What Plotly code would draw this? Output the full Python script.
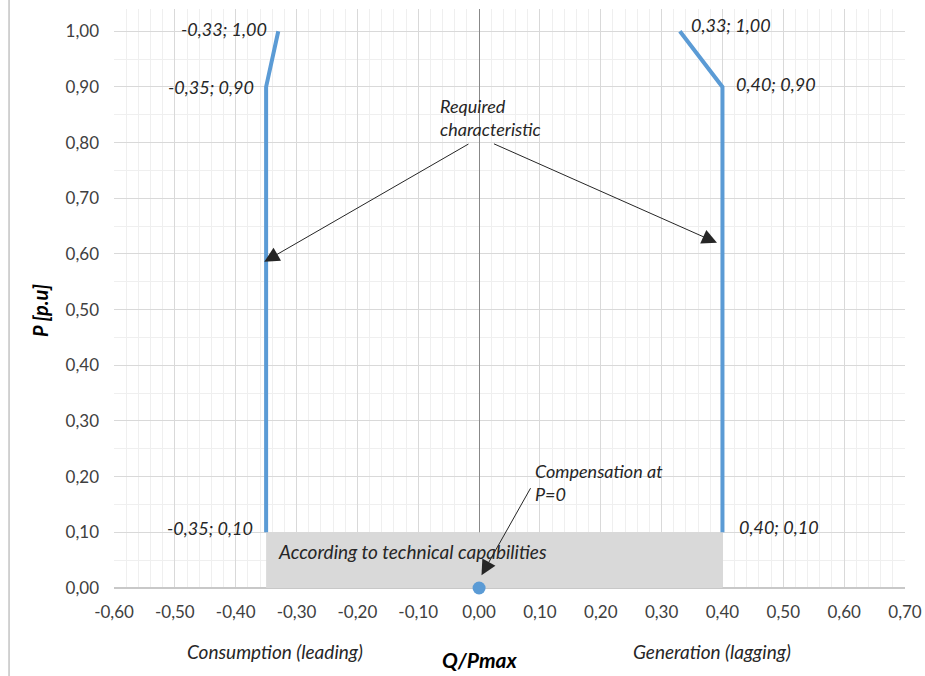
import plotly.graph_objects as go

# ---- data ----
q_consumption = [-0.35, -0.35, -0.33]
p_consumption = [0.10, 0.90, 1.00]
q_generation = [0.40, 0.40, 0.33]
p_generation = [0.10, 0.90, 1.00]
q_comp = [0.00]
p_comp = [0.00]
x_ticks = [-0.6, -0.5, -0.4, -0.3, -0.2, -0.1, 0.0, 0.1, 0.2, 0.3, 0.4, 0.5, 0.6, 0.7]
y_ticks = [0.0, 0.1, 0.2, 0.3, 0.4, 0.5, 0.6, 0.7, 0.8, 0.9, 1.0]

FONT = "Lato"
BLUE = "#5b9bd5"
TXT = "#262626"

def num(v):
    return f"{v:.2f}".replace(".", ",")

def lbl(q, p):
    return f"{num(q)}; {num(p)}"

fig = go.Figure()

# gray area (according to technical capabilities)
rx0, rx1 = q_consumption[0], q_generation[0]
ry1 = p_consumption[0]
fig.add_trace(go.Scatter(
    x=[rx0, rx1, rx1, rx0, rx0], y=[0, 0, ry1, ry1, 0],
    fill="toself", fillcolor="#d9d9d9", line=dict(width=0),
    mode="lines", hoverinfo="skip", showlegend=False))

fig.add_trace(go.Scatter(x=q_consumption, y=p_consumption, mode="lines",
                         line=dict(color=BLUE, width=4), showlegend=False))
fig.add_trace(go.Scatter(x=q_generation, y=p_generation, mode="lines",
                         line=dict(color=BLUE, width=4), showlegend=False))
fig.add_trace(go.Scatter(x=q_comp, y=p_comp, mode="markers",
                         marker=dict(color=BLUE, size=13), showlegend=False,
                         cliponaxis=False))

ann = []
lab_font = dict(family=FONT, size=18, color=TXT, style="italic")
# data labels
shifts_c = [(-11, 4), (-10, 0), (-9, 2)]
for (q, p), (dx, dy) in zip(zip(q_consumption, p_consumption), shifts_c):
    ann.append(dict(x=q, y=p, text=lbl(q, p), showarrow=False, xanchor="right",
                    yanchor="middle", xshift=dx, yshift=dy, font=lab_font))
shifts_g = [(15, 5), (12, 3), (9, 6)]
for (q, p), (dx, dy) in zip(zip(q_generation, p_generation), shifts_g):
    ann.append(dict(x=q, y=p, text=lbl(q, p), showarrow=False, xanchor="left",
                    yanchor="middle", xshift=dx, yshift=dy, font=lab_font))

# text notes
ann.append(dict(x=-0.068, y=0.845, text="Required<br>characteristic", showarrow=False,
                xanchor="left", yanchor="middle", align="left", font=lab_font))
ann.append(dict(x=0.088, y=0.1895, text="Compensation at<br>P=0", showarrow=False,
                xanchor="left", yanchor="middle", align="left", font=lab_font))
ann.append(dict(x=-0.333, y=0.0647, text="According to technical capabilities", showarrow=False,
                xanchor="left", yanchor="middle", font=dict(lab_font, size=19)))

# arrows
arrows = [((-0.353, 0.586), (-0.015, 0.799)),
          ((0.391, 0.620), (0.022, 0.799)),
          ((0.004, 0.023), (0.086, 0.182))]
for (hx, hy), (tx, ty) in arrows:
    ann.append(dict(x=hx, y=hy, ax=tx, ay=ty, axref="x", ayref="y", text="",
                    showarrow=True, arrowhead=2, arrowsize=3, arrowwidth=1,
                    arrowcolor=TXT))

# axis titles / side notes
ann.append(dict(xref="paper", yref="paper", x=-0.0936, y=0.48, text="P [p.u]",
                textangle=-90, showarrow=False, xanchor="center", yanchor="middle",
                font=dict(family=FONT, size=20, color="#000", weight="bold", style="italic")))
ann.append(dict(x=0, yref="paper", y=-0.124, text="Q/Pmax", showarrow=False,
                xanchor="center", yanchor="middle",
                font=dict(family=FONT, size=21, color="#000", weight="bold", style="italic")))
ann.append(dict(x=-0.335, yref="paper", y=-0.1105, text="Consumption (leading)", showarrow=False,
                xanchor="center", yanchor="middle", font=dict(lab_font, size=19)))
ann.append(dict(x=0.383, yref="paper", y=-0.109, text="Generation (lagging)", showarrow=False,
                xanchor="center", yanchor="middle", font=dict(lab_font, size=19)))

fig.update_layout(
    width=925, height=676,
    margin=dict(l=114, r=20, t=9, b=88, autoexpand=False),
    paper_bgcolor="white", plot_bgcolor="white",
    annotations=ann,
    shapes=[dict(type="line", xref="paper", yref="paper", x0=-0.1327, x1=-0.1327,
                 y0=-0.16, y1=1.02, line=dict(color="#a6a6a6", width=1))],
    font=dict(family=FONT, size=17, color="#595959"),
)
fig.update_xaxes(range=[-0.6, 0.7], tickvals=x_ticks, ticktext=[num(v) for v in x_ticks],
                 showgrid=True, gridcolor="#d9d9d9", gridwidth=1,
                 minor=dict(dtick=0.02, tick0=0, showgrid=True, gridcolor="#efefef", ticks=""),
                 zeroline=True, zerolinecolor="#888888", zerolinewidth=1,
                 showline=False, ticks="", ticklabelstandoff=12,
                 tickfont=dict(family=FONT, size=17, color="#404040"))
fig.update_yaxes(range=[0, 1.04], tickvals=y_ticks, ticktext=[num(v) for v in y_ticks],
                 showgrid=True, gridcolor="#d9d9d9", gridwidth=1,
                 minor=dict(dtick=0.05, tick0=0, showgrid=True, gridcolor="#efefef", ticks=""),
                 zeroline=True, zerolinecolor="#c8c8c8", zerolinewidth=1.5,
                 showline=False, ticks="", ticklabelstandoff=14,
                 tickfont=dict(family=FONT, size=17, color="#404040"))

fig.write_html("out.html", config={"displayModeBar": False},
               post_script="document.body.style.margin='0px';")
